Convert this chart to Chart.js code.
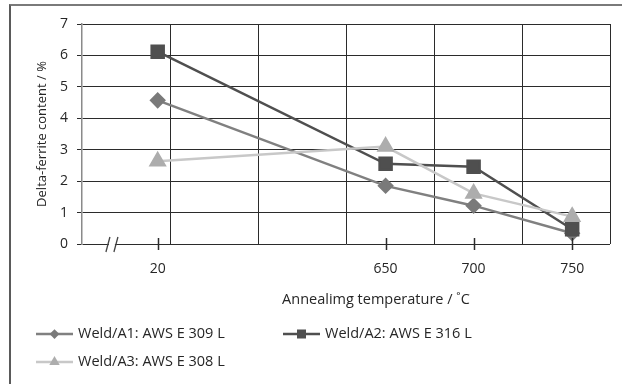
<!DOCTYPE html>
<html>
<head>
<meta charset="utf-8">
<script src="https://cdn.jsdelivr.net/npm/chart.js@4.4.0/dist/chart.umd.min.js"></script>
<style>
  html, body { margin: 0; padding: 0; background: #fff; overflow: hidden; }
  #wrap { position: relative; width: 622px; height: 384px; overflow: hidden; }
  #frame { position: absolute; left: 9px; top: 4px; width: 640px; height: 400px;
           border-top: 2px solid #7a7a7a; border-left: 2px solid #5a5a5a; box-sizing: border-box; }
  canvas { position: absolute; left: 0; top: 0; }
</style>
</head>
<body>
<div id="wrap">
  <div id="frame"></div>
  <canvas id="chart" width="622" height="384"></canvas>
</div>
<script>
// Delta-ferrite content of the welds after annealing

// Temperature categories and where they sit on the broken x axis (grid units 0..6)
const temperatures = ['20', '650', '700', '750'];
const tempPositions = [0.86, 3.45, 4.45, 5.57];

// Delta-ferrite content (%)
const weldA1 = [4.57, 1.85, 1.22, 0.34];
const weldA2 = [6.12, 2.55, 2.46, 0.47];
const weldA3 = [2.63, 3.10, 1.61, 0.87];

const seriesLabels = ['Weld/A1: AWS E 309 L', 'Weld/A2: AWS E 316 L', 'Weld/A3: AWS E 308 L'];
const xTitle = 'Annealimg temperature / \u02DAC';
const yTitle = 'Delta-ferrite content / %';

const FONT = "'Open Sans', sans-serif";
const TEXT = '#262626';
const GRID = '#2b2b2b';

function toPoints(values) {
    return tempPositions.map((x, i) => ({ x: x, y: values[i] }));
}

// tick crosses, axis break, x title and the legend
const decorPlugin = {
    id: 'decor',
    afterDraw(chart) {
        const ctx = chart.ctx;
        const xs = chart.scales.x;
        const ys = chart.scales.y;
        const y0 = ys.getPixelForValue(0);

        ctx.save();
        ctx.strokeStyle = GRID;
        ctx.lineWidth = 1.5;
        tempPositions.forEach(v => {
            const px = Math.round(xs.getPixelForValue(v)) + 0.5;
            ctx.beginPath();
            ctx.moveTo(px, y0 - 6);
            ctx.lineTo(px, y0 + 6);
            ctx.stroke();
        });

        // axis break "//"
        const bx = xs.getPixelForValue(0.34);
        ctx.fillStyle = '#fff';
        ctx.fillRect(bx - 3, y0 - 2, 6, 4);
        ctx.strokeStyle = '#444';
        ctx.lineWidth = 1.3;
        [-4, 4].forEach(d => {
            ctx.beginPath();
            ctx.moveTo(bx + d - 2, y0 + 8);
            ctx.lineTo(bx + d + 2, y0 - 7);
            ctx.stroke();
        });

        // x axis title
        ctx.fillStyle = TEXT;
        ctx.font = '14.5px ' + FONT;
        ctx.textAlign = 'center';
        ctx.textBaseline = 'middle';
        ctx.fillText(xTitle, xs.getPixelForValue(3.34), 300);

        // legend
        const slots = [[36, 334], [283, 334], [36, 362]];
        ctx.textAlign = 'left';
        chart.data.datasets.forEach((ds, i) => {
            const [lx, ly] = slots[i];
            ctx.strokeStyle = ds.borderColor;
            ctx.lineWidth = ds.borderWidth;
            ctx.beginPath();
            ctx.moveTo(lx, ly);
            ctx.lineTo(lx + 37, ly);
            ctx.stroke();
            ctx.fillStyle = ds.pointBackgroundColor;
            ctx.strokeStyle = ds.pointBorderColor;
            Chart.helpers.drawPoint(ctx, {
                pointStyle: ds.pointStyle,
                radius: ds.pointRadius * 0.75,
                rotation: 0,
                borderWidth: 0
            }, lx + 18.5, ly);
            ctx.fillStyle = TEXT;
            ctx.fillText(ds.label, lx + 42, ly);
        });
        ctx.restore();
    }
};

new Chart(document.getElementById('chart'), {
    type: 'scatter',
    data: {
        datasets: [{
            label: seriesLabels[0],
            data: toPoints(weldA1),
            order: 3,
            borderColor: '#808080',
            backgroundColor: '#7a7a7a',
            pointBackgroundColor: '#7a7a7a',
            pointBorderColor: '#7a7a7a',
            pointStyle: 'rectRot',
            pointRadius: 6.5,
            borderWidth: 2.5,
            showLine: true
        }, {
            label: seriesLabels[1],
            data: toPoints(weldA2),
            order: 2,
            borderColor: '#4f4f4f',
            backgroundColor: '#4f4f4f',
            pointBackgroundColor: '#4f4f4f',
            pointBorderColor: '#4f4f4f',
            pointStyle: 'rect',
            pointRadius: 8.5,
            borderWidth: 2.5,
            showLine: true
        }, {
            label: seriesLabels[2],
            data: toPoints(weldA3),
            order: 1,
            borderColor: '#c8c8c8',
            backgroundColor: '#adadad',
            pointBackgroundColor: '#adadad',
            pointBorderColor: '#adadad',
            pointStyle: 'triangle',
            pointRadius: 8,
            borderWidth: 2.5,
            showLine: true
        }]
    },
    options: {
        responsive: false,
        animation: false,
        layout: { padding: { left: 0, top: 24, right: 12, bottom: 0 } },
        plugins: {
            legend: { display: false },
            tooltip: { enabled: false }
        },
        scales: {
            x: {
                type: 'linear',
                min: 0,
                max: 6,
                ticks: { stepSize: 1, display: false },
                grid: {
                    color: ctx => (ctx.tick && ctx.tick.value === 0) ? 'rgba(0,0,0,0)' : GRID,
                    lineWidth: 1,
                    drawTicks: false
                },
                border: { display: false }
            },
            xLabels: {
                type: 'linear',
                position: 'bottom',
                min: 0,
                max: 6,
                afterBuildTicks: s => { s.ticks = tempPositions.map(v => ({ value: v })); },
                afterFit: s => { s.height = 140; },
                ticks: {
                    callback: (v, i) => temperatures[i],
                    autoSkip: false,
                    maxRotation: 0,
                    padding: 9,
                    color: TEXT,
                    font: { family: FONT, size: 14 }
                },
                grid: { display: false },
                border: { display: false }
            },
            y: {
                min: 0,
                max: 7,
                afterFit: s => { s.width = 82; },
                ticks: {
                    stepSize: 1,
                    padding: 9,
                    color: TEXT,
                    font: { family: FONT, size: 14 }
                },
                grid: { color: GRID, lineWidth: 1, tickLength: 5 },
                border: { color: '#8a8a8a', width: 1.5 },
                title: {
                    display: true,
                    text: yTitle,
                    color: TEXT,
                    font: { family: FONT, size: 13 },
                    padding: { top: 34, bottom: 0 }
                }
            }
        }
    },
    plugins: [decorPlugin]
});
</script>
</body>
</html>
